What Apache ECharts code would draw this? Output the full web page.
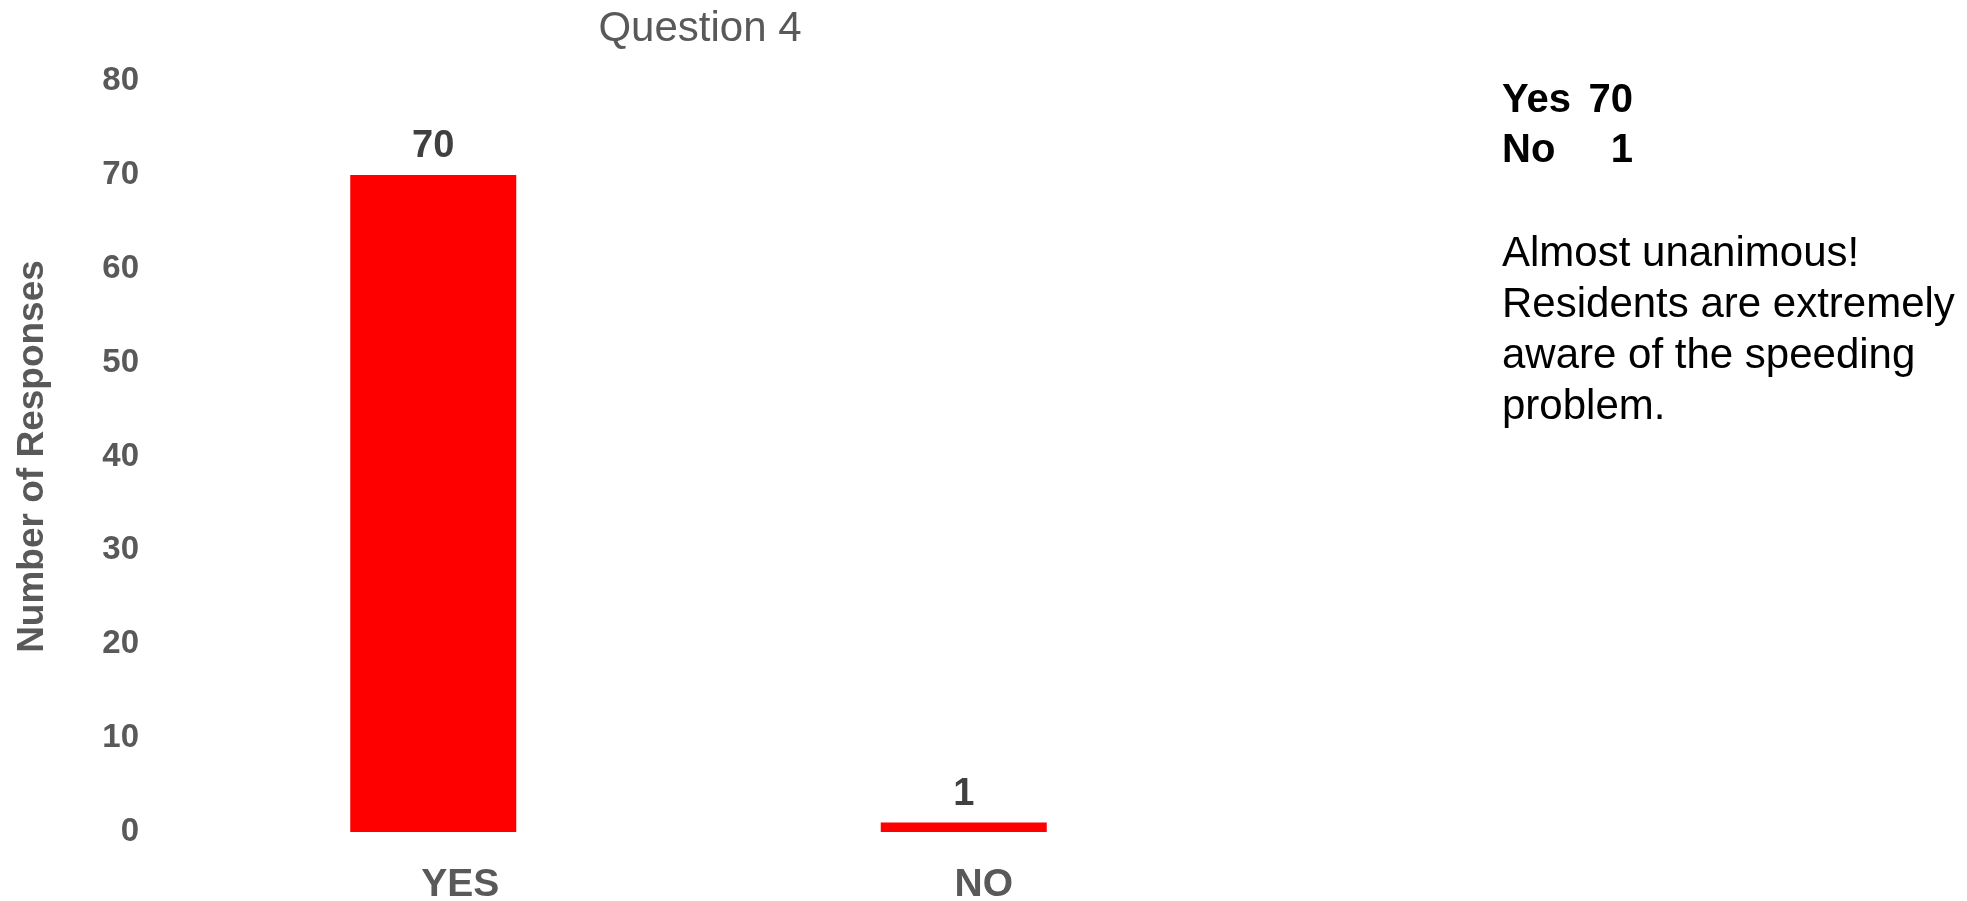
<!DOCTYPE html>
<html>
<head>
<meta charset="utf-8">
<title>Question 4</title>
<script src="https://cdn.jsdelivr.net/npm/echarts@6/dist/echarts.min.js"></script>
<style>
  html, body { margin: 0; padding: 0; background: #fff; }
  #main { width: 1967px; height: 901px; }
</style>
</head>
<body>
<div id="main"></div>
<script>
// data
var categories = ["YES", "NO"];
var responses = [70, 1];
var summaryLabels = ["Yes", "No"];
var noteLines = ["Almost unanimous!", "Residents are extremely", "aware of the speeding", "problem."];

var FONT = '"Liberation Sans", Arial, sans-serif';
var GREY = "#595959";

var chart = echarts.init(document.getElementById("main"));

// texts on the right side
var sideText = [];
for (var i = 0; i < summaryLabels.length; i++) {
  sideText.push({
    type: "text", left: 1502, top: 81 + i * 50,
    style: { text: summaryLabels[i], font: "bold 40px " + FONT, fill: "#000" }
  });
  sideText.push({
    type: "text", right: 1967 - 1633, top: 81 + i * 50,
    style: { text: String(responses[i]), font: "bold 40px " + FONT, fill: "#000", align: "right" }
  });
}
for (var j = 0; j < noteLines.length; j++) {
  sideText.push({
    type: "text", left: 1502, top: 233 + j * 51,
    style: { text: noteLines[j], font: "42px " + FONT, fill: "#000" }
  });
}

var catStyle = { fontFamily: FONT, fontSize: 39, fontWeight: "bold", color: GREY };

chart.setOption({
  animation: false,
  title: {
    text: "Question 4",
    left: 695,
    top: 3,
    textAlign: "center",
    textStyle: { fontFamily: FONT, fontSize: 42, fontWeight: "normal", color: GREY }
  },
  grid: { left: 168, right: 738, top: 81, bottom: 69, containLabel: false, outerBoundsMode: "none" },
  xAxis: {
    type: "category",
    data: categories,
    axisLine: { show: false },
    axisTick: { show: false },
    axisLabel: {
      margin: 34,
      fontFamily: FONT, fontSize: 39, fontWeight: "bold", color: GREY,
      formatter: function (v, idx) { return "{c" + idx + "|" + v + "}"; },
      rich: {
        c0: Object.assign({ padding: [0, 0, 0, 54] }, catStyle),
        c1: Object.assign({ padding: [0, 0, 0, 40] }, catStyle)
      }
    }
  },
  yAxis: {
    type: "value",
    min: 0, max: 80, interval: 10,
    name: "Number of Responses",
    nameLocation: "middle",
    nameRotate: 90,
    nameGap: 117,
    nameTextStyle: { fontFamily: FONT, fontSize: 37, fontWeight: "bold", color: GREY },
    axisLine: { show: false },
    axisTick: { show: false },
    splitLine: { show: false },
    axisLabel: { margin: 29, padding: [14, 0, 0, 0], fontFamily: FONT, fontSize: 33, fontWeight: "bold", color: GREY }
  },
  series: [{
    type: "bar",
    data: responses,
    barWidth: 166,
    itemStyle: { color: "#FF0000" },
    label: {
      show: true, position: "top", distance: 9,
      fontFamily: FONT, fontSize: 38, fontWeight: "bold", color: "#404040"
    }
  }],
  graphic: sideText
});
</script>
</body>
</html>
